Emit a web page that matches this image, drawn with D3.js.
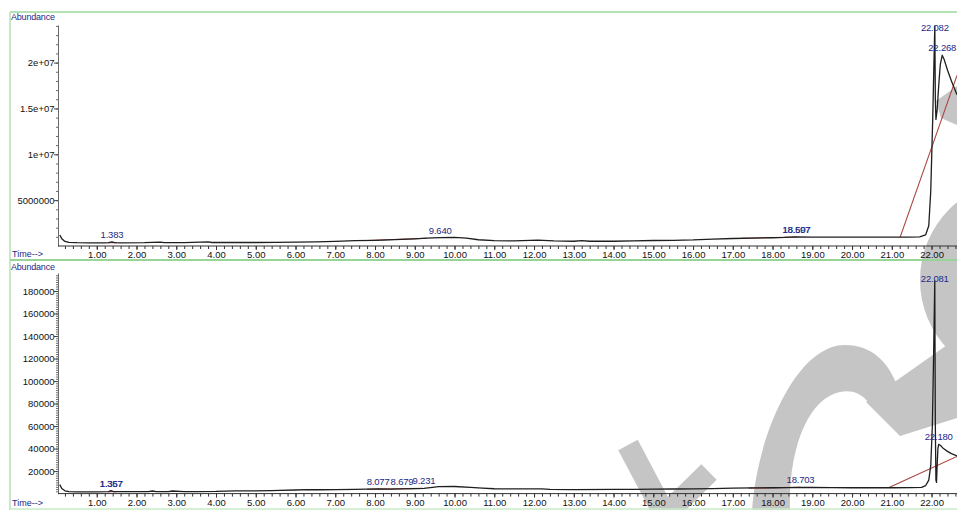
<!DOCTYPE html>
<html><head><meta charset="utf-8">
<script src="https://cdn.jsdelivr.net/npm/d3@7"></script>
<style>
body{margin:0;background:#fff;}
svg{display:block;font-family:"Liberation Sans",Arial,sans-serif;}
</style>
</head><body>
<svg id="c" width="957" height="510"></svg>
<script>
// ---------- DATA ----------
const majorTimes = d3.range(1, 23);               // 1.00 ... 22.00
const minorTimes = d3.range(0.2, 22.65, 0.2);

// Top panel (TIC)
const topTimes = [0.07,0.12,0.2,0.3,0.5,0.8,1.2,1.3,1.383,1.45,1.6,2.2,2.6,2.7,3.2,3.8,3.9,4.5,5.0,5.5,6.0,6.5,7.0,7.5,8.0,8.5,9.0,9.3,9.64,10.0,10.3,10.6,11.0,11.5,11.9,12.1,12.5,13.0,13.2,13.4,14.0,14.5,15.0,15.5,16.0,16.5,17.0,17.5,18.0,18.3,18.607,19.0,19.5,20.0,20.5,21.0,21.4,21.7,21.85,21.93,21.98,22.03,22.06,22.082,22.095,22.11,22.14,22.18,22.22,22.268,22.32,22.4,22.5,22.64];
const topAbund = [1.2e6,0.8e6,0.5e6,0.4e6,0.36e6,0.35e6,0.35e6,0.36e6,0.45e6,0.37e6,0.35e6,0.36e6,0.42e6,0.36e6,0.37e6,0.44e6,0.38e6,0.38e6,0.38e6,0.40e6,0.42e6,0.45e6,0.5e6,0.58e6,0.62e6,0.7e6,0.78e6,0.85e6,0.92e6,0.95e6,0.85e6,0.68e6,0.58e6,0.55e6,0.62e6,0.65e6,0.55e6,0.52e6,0.58e6,0.52e6,0.52e6,0.55e6,0.6e6,0.62e6,0.66e6,0.75e6,0.82e6,0.86e6,0.9e6,0.93e6,1.0e6,0.97e6,0.96e6,0.96e6,0.96e6,0.97e6,0.97e6,1.0e6,1.2e6,2.2e6,6e6,14e6,20e6,24e6,16e6,13.8e6,14.8e6,17.5e6,19.8e6,20.8e6,20.3e6,19.2e6,18e6,16.5e6];
const topYTicks = [5000000, 10000000, 15000000, 20000000];
const topYLabels = ["5000000", "1e+07", "1.5e+07", "2e+07"];
const topPeaks = [1.383, 9.640, 18.597, 18.607, 22.082, 22.268];
const topPeakLabels = ["1.383", "9.640", "18.597", "18.607", "22.082", "22.268"];
// integration baselines: [t1, a1, t2, a2]
const topBaselines = [[1.28,0.36e6,1.5,0.37e6],[7.8,0.6e6,9.3,0.84e6],[17.2,0.84e6,18.6,0.98e6],[21.21,0.97e6,22.64,18.6e6]];

// Bottom panel (extracted ion)
const botTimes = [0.07,0.12,0.2,0.3,0.5,1.0,1.3,1.357,1.42,1.6,2.3,2.4,2.5,2.8,2.9,3.2,3.5,4.0,4.5,5.0,5.4,5.6,6.0,6.3,6.6,7.0,7.5,8.077,8.4,8.679,9.0,9.231,9.6,10.0,10.4,10.7,11.0,11.5,12.0,12.2,12.4,13.0,14.0,14.5,15.0,15.5,16.0,16.5,17.0,17.5,18.0,18.4,18.703,19.0,19.5,20.0,20.5,21.0,21.5,21.75,21.85,21.93,21.98,22.02,22.05,22.081,22.095,22.11,22.125,22.14,22.16,22.18,22.22,22.3,22.4,22.5,22.64];
const botAbund = [8000,4500,2500,1800,1600,1600,1700,2600,1800,1700,1700,2300,1700,1800,2300,1800,1800,1900,2400,2500,2700,2800,3200,3600,3400,3500,3700,4200,4000,4200,4500,4700,6200,6300,5500,4800,4300,4200,4200,4200,3700,3600,3700,3800,4000,4100,4200,4500,4800,5000,5200,5300,5600,5400,5300,5200,5200,5200,5300,5500,7000,12000,25000,60000,120000,189000,60000,12000,10000,25000,40000,43800,43000,40000,37500,35500,33500];
const botYTicks = [20000,40000,60000,80000,100000,120000,140000,160000,180000];
const botYLabels = ["20000","40000","60000","80000","100000","120000","140000","160000","180000"];
const botPeaks = [1.357, 1.367, 8.077, 8.679, 9.231, 18.703, 22.081, 22.180];
const botPeakLabels = ["1.357", "1.367", "8.077", "8.679", "9.231", "18.703", "22.081", "22.180"];
const botBaselines = [[1.28,1700,1.5,1750],[7.8,3900,9.2,4600],[17.4,4900,18.7,5600],[20.93,5500,22.64,33000]];

// ---------- DRAW ----------
const svg = d3.select("#c");
const W = 957, H = 510;
const green = "#97d497";
const navy = "#232a86";
const redc = "#a8453f";

// watermark (decorative, beneath the chart)
const wm = svg.append("g").attr("fill", "#c5c5c5");
wm.append("path").attr("d", "M628,445 L665,515 L709,472").attr("fill","none")
  .attr("stroke","#c5c5c5").attr("stroke-width",22);
wm.append("path").attr("d", "M752,512 C756,440 795,345 845,345 C872,345 888,362 897,385 L868,402 C860,392 850,390 840,392 C810,398 788,445 790,512 Z");
wm.append("path").attr("d", "M866,402 L957,338 L957,418 L900,436 Z");
wm.append("path").attr("transform","translate(1020,280)")
  .attr("d", d3.arc()({innerRadius:60, outerRadius:100, startAngle:0, endAngle:2*Math.PI}));
wm.append("path").attr("d", "M936,101 L957,86 L957,125 L941,118 Z");

// frames
svg.append("line").attr("x1",10).attr("x2",W).attr("y1",12).attr("y2",12).attr("stroke","#b5e2b5").attr("stroke-width",2);
svg.append("line").attr("x1",10).attr("x2",10).attr("y1",12).attr("y2",H).attr("stroke","#b5e2b5").attr("stroke-width",1.5);
svg.append("line").attr("x1",10).attr("x2",W).attr("y1",260).attr("y2",260).attr("stroke",green).attr("stroke-width",2);
svg.append("line").attr("x1",10).attr("x2",W).attr("y1",509).attr("y2",509).attr("stroke","#c8ebc8").attr("stroke-width",1.5);

const x = d3.scaleLinear().domain([0, 22.64]).range([57, 957]);

function interp(times, vals, t) {
  const i = Math.max(0, Math.min(times.length - 2, d3.bisectRight(times, t) - 1));
  const f = (t - times[i]) / (times[i+1] - times[i]);
  return vals[i] + f * (vals[i+1] - vals[i]);
}

function panel(opt) {
  const g = svg.append("g");
  const y = d3.scaleLinear().domain([0, opt.ymax]).range([opt.y0, opt.ytop]);

  // y axis
  const yMinor = d3.axisLeft(y).tickValues(d3.range(opt.minorStep, opt.ymax, opt.minorStep))
    .tickSize(2).tickSizeOuter(0).tickFormat("");
  const ya = g.append("g").attr("transform","translate(58,0)").call(yMinor);
  ya.selectAll("path,line").attr("stroke","#444").attr("stroke-width",0.8);
  const yMajor = d3.axisLeft(y).tickValues(opt.yTicks).tickSize(4).tickSizeOuter(0)
    .tickFormat((d,i) => opt.yLabels[i]);
  const yb = g.append("g").attr("transform","translate(58,0)").call(yMajor);
  yb.select(".domain").remove();
  yb.selectAll("line").attr("stroke","#444");
  yb.selectAll("text").attr("font-size","9.5px").attr("fill","#111").attr("font-family","Liberation Sans, Arial").attr("x",-3.5);

  // x axis
  const xMinor = d3.axisBottom(x).tickValues(minorTimes).tickSize(3).tickSizeOuter(0).tickFormat("");
  const xa = g.append("g").attr("transform",`translate(0,${opt.y0})`).call(xMinor);
  xa.select(".domain").attr("d", `M58,0H${W}`);
  xa.selectAll("path,line").attr("stroke","#333").attr("stroke-width",1);
  const xMajor = d3.axisBottom(x).tickValues(majorTimes).tickSize(4).tickSizeOuter(0).tickFormat(d3.format(".2f"));
  const xb = g.append("g").attr("transform",`translate(0,${opt.y0})`).call(xMajor);
  xb.select(".domain").remove();
  xb.selectAll("line").attr("stroke","#333");
  xb.selectAll("text").attr("font-size","9.5px").attr("fill","#111").attr("font-family","Liberation Sans, Arial").attr("y",5.5);

  // titles
  g.append("text").attr("x",11).attr("y",opt.titleY).attr("font-size","9px").attr("fill",navy)
    .attr("letter-spacing","-0.2").text("Abundance");
  g.append("text").attr("x",12).attr("y",opt.timeY).attr("font-size","9px").attr("fill",navy).text("Time-->");

  // integration baselines
  g.selectAll(".bl").data(opt.baselines).join("line")
    .attr("x1", d => x(d[0])).attr("y1", d => y(d[1]))
    .attr("x2", d => x(d[2])).attr("y2", d => y(d[3]))
    .attr("stroke", redc).attr("stroke-width", 1.1);

  // signal
  const pts = opt.times.map((t,i) => [t, opt.vals[i]]);
  g.append("path").datum(pts)
    .attr("d", d3.line().x(d => x(d[0])).y(d => y(d[1])))
    .attr("fill","none").attr("stroke","#1e1e1e").attr("stroke-width",1.3).attr("stroke-linejoin","round");

  // peak labels
  g.selectAll(".pk").data(opt.peaks).join("text")
    .attr("x", d => x(d)).attr("y", d => Math.max(y(interp(opt.times, opt.vals, d)) - 4, opt.labelMin))
    .attr("text-anchor","middle").attr("font-size","9.5px").attr("fill",navy)
    .attr("letter-spacing","-0.2")
    .text((d,i) => opt.peakLabels[i]);
}

panel({ymax:24.1e6, y0:246, ytop:25, minorStep:1e6, yTicks:topYTicks, yLabels:topYLabels,
  times:topTimes, vals:topAbund, peaks:topPeaks, peakLabels:topPeakLabels, baselines:topBaselines,
  titleY:20, timeY:257, labelMin:31});
panel({ymax:196000, y0:493.6, ytop:273, minorStep:2000, yTicks:botYTicks, yLabels:botYLabels,
  times:botTimes, vals:botAbund, peaks:botPeaks, peakLabels:botPeakLabels, baselines:botBaselines,
  titleY:270, timeY:506, labelMin:282});
</script>
</body></html>
